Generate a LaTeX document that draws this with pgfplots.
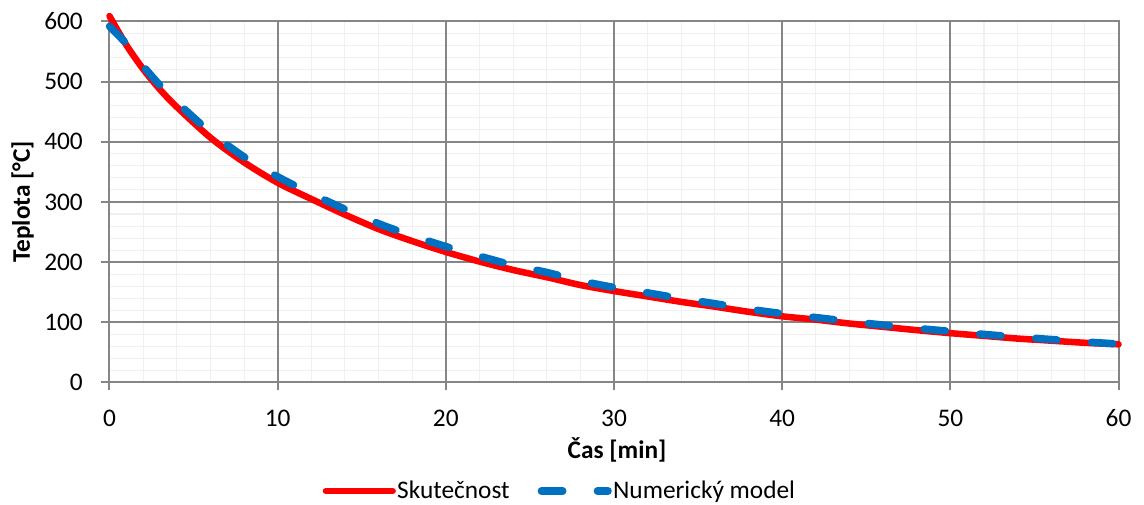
\documentclass[border=0pt]{standalone}
\usepackage{fontspec}
\setmainfont{Carlito}
\usepackage{pgfplots}
\pgfplotsset{compat=1.18}

\definecolor{realred}{RGB}{255,0,0}
\definecolor{modelblue}{RGB}{0,112,192}
\definecolor{majorgrid}{RGB}{134,134,134}
\definecolor{minorgrid}{RGB}{240,240,240}

\newcommand{\chartfont}{\fontsize{19}{23}\selectfont}

% Measured cooling curve
\pgfplotstableread{
t T
0 609
1 561
2 521
3 487
4 458
6 407
8 366
10 332
12 305
14 279
16 255
18 235
20 217
22 201
24 187
26 175
28 162
30 152
32 143
34 134
36 126
38 117.5
40 110
42 104.5
44 98
46 92.5
48 87
50 82
52 77.5
54 73
56 69.5
58 66
60 63.5
}\measured

% Numerical model
\pgfplotstableread{
t T
0 592
1 563
2 526
3 494
4 466
6 416
8 375
10 342
12 314
14 288
16 264
18 244
20 226
22 210
24 195
26 183
28 169
30 158
32 149
34 139.5
36 131
38 122
40 114.5
42 108
44 101.5
46 95.5
48 90
50 85
52 80
54 75.5
56 71.5
58 67.5
60 64
}\model

\begin{document}
\begin{tikzpicture}
\begin{axis}[
  name=ax,
  scale only axis,
  width=756.75pt, height=270.75pt,
  xmin=0, xmax=60, ymin=0, ymax=600,
  xtick={0,10,...,60}, ytick={0,100,...,600},
  minor x tick num=4, minor y tick num=4,
  grid=minor,
  minor grid style={minorgrid, line width=0.8pt},
  major grid style={majorgrid, line width=1.5pt},
  % major grid lines drawn last so they sit above the minor ones
  extra x ticks={0,10,...,60}, extra x tick labels={},
  extra y ticks={0,100,...,600}, extra y tick labels={},
  extra tick style={grid=major, major tick length=0pt},
  axis line style={majorgrid, line width=1.5pt},
  tick align=outside,
  major tick length=6pt, minor tick length=0pt,
  tick style={majorgrid, line width=1.5pt},
  xtick pos=lower, ytick pos=left,
  clip=false,
  /pgf/number format/assume math mode=true,
  tick label style={font=\chartfont},
  xticklabel style={yshift=-11pt},
  yticklabel style={xshift=-10.5pt},
  xlabel={Čas [min]}, ylabel={Teplota [°C]},
  every axis x label/.style={at={(axis description cs:0.503,-0.210)}, anchor=base, font=\chartfont\bfseries},
  every axis y label/.style={at={(axis description cs:-0.0788,0.5)}, rotate=90, anchor=base, font=\chartfont\bfseries},
  legend columns=2,
  legend style={at={(axis description cs:0.446,-0.3006)}, anchor=center, draw=none, fill=none,
    font=\chartfont, inner sep=0pt, nodes={inner xsep=1pt, inner ysep=1pt},
    /tikz/every even column/.append style={column sep=20pt}},
  legend cell align=left,
  legend image code/.code={\draw[#1] (0pt,0pt) -- (50pt,0pt);},
]
\addplot[realred, line width=4.9pt, line cap=round, smooth] table[x=t, y=T] {\measured};
\addlegendentry{Skutečnost}
\addplot[modelblue, line width=5.6pt, line cap=round, dash pattern=on 16pt off 26pt, smooth] table[x=t, y=T] {\model};
\addlegendentry{Numerický model}
\end{axis}
\pgfresetboundingbox
\path[use as bounding box] ([xshift=-82.125pt,yshift=-91.875pt]ax.south west) rectangle ([xshift=19.125pt,yshift=16.125pt]ax.north east);
\end{tikzpicture}
\end{document}
